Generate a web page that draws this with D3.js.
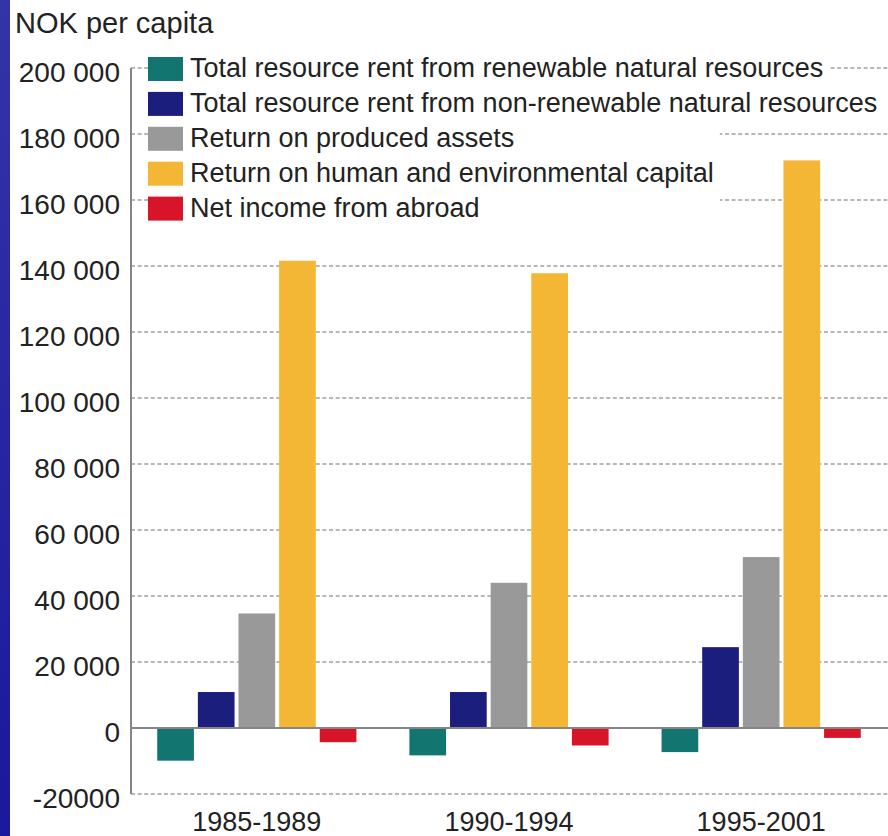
<!DOCTYPE html>
<html>
<head>
<meta charset="utf-8">
<script src="https://cdn.jsdelivr.net/npm/d3@7"></script>
<style>
  body { margin: 0; background: #fff; }
  svg { display: block; font-family: "Liberation Sans", Arial, sans-serif; }
</style>
</head>
<body>
<div id="chart"></div>
<script>
// data (NOK per capita)
const periods = ['1985-1989', '1990-1994', '1995-2001'];
const seriesNames = [
  'Total resource rent from renewable natural resources',
  'Total resource rent from non-renewable natural resources',
  'Return on produced assets',
  'Return on human and environmental capital',
  'Net income from abroad'
];
const renewable = [-9900, -8300, -7300];
const nonRenewable = [10900, 10900, 24500];
const producedAssets = [34700, 44000, 51800];
const humanCapital = [141600, 137800, 172000];
const netAbroad = [-4300, -5300, -3000];
const yTicks = [-20000, 0, 20000, 40000, 60000, 80000, 100000, 120000, 140000, 160000, 180000, 200000];
const colors = ['#12756f', '#1b1e7c', '#999999', '#f4b735', '#d81428'];

const seriesValues = [renewable, nonRenewable, producedAssets, humanCapital, netAbroad];

let width = 888;
let height = 836;
let axisX = 131;

let svg = d3.select('#chart')
  .append('svg')
  .attr('width', width)
  .attr('height', height)
  .style('background-color', '#fff');

// blue strip on the left edge
let grad = svg.append('defs')
  .append('linearGradient')
  .attr('id', 'strip')
  .attr('x1', 0).attr('y1', 0).attr('x2', 0).attr('y2', 1);
grad.append('stop').attr('offset', '0%').attr('stop-color', '#3434a8');
grad.append('stop').attr('offset', '100%').attr('stop-color', '#1a189c');
svg.append('rect')
  .attr('x', 0).attr('y', 0)
  .attr('width', 10).attr('height', height)
  .attr('fill', 'url(#strip)');

let yScale = d3.scaleLinear()
  .domain([-20000, 200000])
  .range([794, 68]);

let x0 = d3.scaleBand()
  .domain(periods)
  .range([axisX, 887])
  .paddingInner(0.21)
  .paddingOuter(0.104);

let x1 = d3.scaleBand()
  .domain(seriesNames)
  .range([0, x0.bandwidth()])
  .paddingInner(0.097);

let colorScale = d3.scaleOrdinal()
  .domain(seriesNames)
  .range(colors);

// dashed gridlines
svg.append('g')
  .selectAll('line')
  .data(yTicks.filter(t => t !== 0))
  .join('line')
  .attr('x1', axisX)
  .attr('x2', width)
  .attr('y1', d => yScale(d))
  .attr('y2', d => yScale(d))
  .attr('stroke', '#a0a0a0')
  .attr('stroke-width', 1.6)
  .attr('stroke-dasharray', '4,2.6');

// y axis via d3.axisLeft, then restyled
let yAxis = svg.append('g')
  .attr('transform', `translate(${axisX},0)`)
  .call(d3.axisLeft(yScale)
    .tickValues(yTicks)
    .tickSize(0)
    .tickPadding(11)
    .tickFormat(d => d === -20000 ? '-20000' : d3.format(',')(d).replace(/,/g, ' ')));
yAxis.select('.domain')
  .attr('d', `M0,${yScale(200000)}V${yScale(-20000)}`)
  .attr('stroke', '#858585')
  .attr('stroke-width', 2);
yAxis.selectAll('text')
  .attr('font-family', '"Liberation Sans", Arial, sans-serif')
  .attr('font-size', 28)
  .attr('fill', '#222')
  .attr('dy', 13);

// bars
let groups = svg.append('g')
  .selectAll('g')
  .data(periods)
  .join('g')
  .attr('transform', d => `translate(${x0(d)},0)`);

groups.selectAll('rect')
  .data((d, i) => seriesNames.map((name, j) => ({ name: name, value: seriesValues[j][i] })))
  .join('rect')
  .attr('x', d => x1(d.name))
  .attr('width', x1.bandwidth())
  .attr('y', d => yScale(Math.max(0, d.value)))
  .attr('height', d => Math.abs(yScale(d.value) - yScale(0)))
  .attr('fill', d => colorScale(d.name));

// zero line
svg.append('line')
  .attr('x1', axisX)
  .attr('x2', width)
  .attr('y1', yScale(0))
  .attr('y2', yScale(0))
  .attr('stroke', '#858585')
  .attr('stroke-width', 2);

// category labels
svg.append('g')
  .selectAll('text')
  .data(periods)
  .join('text')
  .attr('x', d => x0(d) + x0.bandwidth() / 2)
  .attr('y', 831)
  .attr('text-anchor', 'middle')
  .attr('font-size', 27)
  .attr('fill', '#222')
  .text(d => d);

// title
svg.append('text')
  .attr('x', 15)
  .attr('y', 33)
  .attr('font-size', 29)
  .attr('fill', '#222')
  .text('NOK per capita');

// legend, with white boxes covering the gridlines behind it
let legendX = 148;
let legendY = 57;
let rowStep = 34.9;
let legend = svg.append('g');

let bgLayer = legend.append('g');
let labels = legend.selectAll('text')
  .data(seriesNames)
  .join('text')
  .attr('x', legendX + 42)
  .attr('y', (d, i) => legendY + i * rowStep + 20)
  .attr('font-size', 27)
  .attr('fill', '#222')
  .text(d => d);

let textWidths = labels.nodes().map(n => n.getComputedTextLength());
// the last three rows share one box
let lowerWidth = d3.max(textWidths.slice(2));
bgLayer.selectAll('rect')
  .data(seriesNames)
  .join('rect')
  .attr('x', legendX)
  .attr('y', (d, i) => legendY + i * rowStep - 5)
  .attr('width', (d, i) => 42 + (i < 2 ? textWidths[i] : lowerWidth) + 6)
  .attr('height', rowStep)
  .attr('fill', '#fff');

legend.selectAll('rect.swatch')
  .data(seriesNames)
  .join('rect')
  .attr('class', 'swatch')
  .attr('x', legendX)
  .attr('y', (d, i) => legendY + i * rowStep)
  .attr('width', 35)
  .attr('height', 24)
  .attr('fill', d => colorScale(d));
</script>
</body>
</html>
